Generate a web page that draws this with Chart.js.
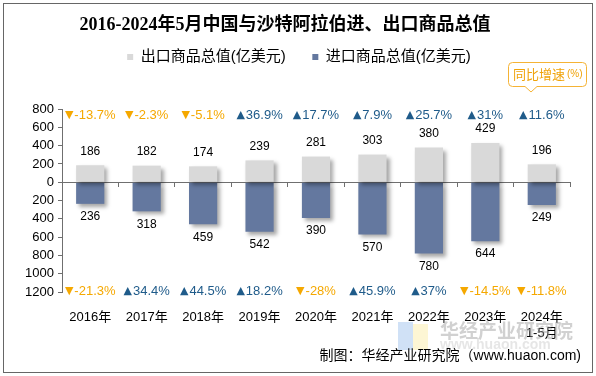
<!DOCTYPE html>
<html><head><meta charset="utf-8">
<script src="https://cdn.jsdelivr.net/npm/chart.js@4/dist/chart.umd.min.js"></script>
<style>html,body{margin:0;padding:0;background:#fff;}canvas{display:block;}</style>
</head><body>
<canvas id="c" width="596" height="376"></canvas>
<script>
const categories = ['2016年','2017年','2018年','2019年','2020年','2021年','2022年','2023年',['2024年','1-5月']];
const exportValues = [186,182,174,239,281,303,380,429,196];
const importValues = [236,318,459,542,390,570,780,644,249];
const exportGrowth = [-13.7,-2.3,-5.1,36.9,17.7,7.9,25.7,31,11.6];
const importGrowth = [-21.3,34.4,44.5,18.2,-28,45.9,37,-14.5,-11.8];
const titleText = '2016-2024年5月中国与沙特阿拉伯进、出口商品总值';
const exportLabel = '出口商品总值(亿美元)';
const importLabel = '进口商品总值(亿美元)';
const sourceText = '制图：华经产业研究院（www.huaon.com)';

const LAT = '"Liberation Sans", "Noto Sans CJK SC", sans-serif';
const UP = '#1f5b8a', DOWN = '#f5a800';

const shadowPlugin = {
  id: 'barShadow',
  beforeDatasetsDraw(chart) {
    const c = chart.ctx; c.save();
    c.shadowColor = 'rgba(0,0,0,0.35)'; c.shadowBlur = 4; c.shadowOffsetX = 3; c.shadowOffsetY = 3;
  },
  afterDatasetsDraw(chart) { chart.ctx.restore(); }
};

const legendShift = { id: 'legendShift', afterLayout(chart) {
  const dx = 14; if (chart.legend) { chart.legend.left += dx; chart.legend.right += dx; }
}};

function growthText(ctx, v, x, y) {
  const arrow = v >= 0 ? '▲' : '▼';
  const txt = v + '%';
  ctx.font = '11px "DejaVu Sans", sans-serif';
  const aw = ctx.measureText(arrow).width;
  ctx.font = '13px ' + LAT;
  const tw = ctx.measureText(txt).width;
  const start = x - (aw + 1 + tw) / 2;
  ctx.fillStyle = v >= 0 ? UP : DOWN;
  ctx.textAlign = 'left'; ctx.textBaseline = 'middle';
  ctx.font = '11px "DejaVu Sans", sans-serif';
  ctx.fillText(arrow, start, y);
  ctx.font = '13px ' + LAT;
  ctx.fillText(txt, start + aw + 1, y);
}

const decor = {
  id: 'decor',
  afterDraw(chart) {
    const ctx = chart.ctx; const ys = chart.scales.y;
    ctx.save();
    // value labels
    ctx.font = '12px ' + LAT; ctx.fillStyle = '#000'; ctx.textAlign = 'center'; ctx.textBaseline = 'middle';
    chart.getDatasetMeta(0).data.forEach((b, i) => ctx.fillText(String(exportValues[i]), b.x, b.y - 14));
    chart.getDatasetMeta(1).data.forEach((b, i) => ctx.fillText(String(importValues[i]), b.x, b.y + 13));
    // growth labels
    const yTop = ys.getPixelForValue(735), yBot = ys.getPixelForValue(-1195);
    chart.getDatasetMeta(0).data.forEach((b, i) => growthText(ctx, exportGrowth[i], b.x, yTop));
    chart.getDatasetMeta(1).data.forEach((b, i) => growthText(ctx, importGrowth[i], b.x, yBot));
    // callout
    ctx.beginPath();
    const x0 = 508.5, y0 = 62.5, x1 = 586.5, y1 = 86.5, r = 4;
    ctx.moveTo(x0 + r, y0); ctx.lineTo(x1 - r, y0); ctx.quadraticCurveTo(x1, y0, x1, y0 + r);
    ctx.lineTo(x1, y1 - r); ctx.quadraticCurveTo(x1, y1, x1 - r, y1);
    ctx.lineTo(537, y1); ctx.lineTo(531, 92); ctx.lineTo(525, y1);
    ctx.lineTo(x0 + r, y1); ctx.quadraticCurveTo(x0, y1, x0, y1 - r);
    ctx.lineTo(x0, y0 + r); ctx.quadraticCurveTo(x0, y0, x0 + r, y0); ctx.closePath();
    ctx.fillStyle = '#fff'; ctx.fill(); ctx.strokeStyle = '#f5b335'; ctx.lineWidth = 1; ctx.stroke();
    ctx.fillStyle = '#f0a30a'; ctx.textAlign = 'left'; ctx.textBaseline = 'middle';
    ctx.font = '13px "Noto Sans CJK SC", sans-serif';
    ctx.fillText('同比增速', 513, 74.5);
    const cw = ctx.measureText('同比增速').width;
    ctx.font = '10px ' + LAT;
    ctx.fillText('(%)', 513 + cw + 2, 74.5);
    // watermark
    ctx.globalAlpha = 0.55;
    ctx.fillStyle = '#a9c8ef'; ctx.fillRect(398, 322, 15, 28);
    ctx.fillStyle = '#fbeeb0'; ctx.fillRect(413, 324, 15, 26);
    ctx.globalAlpha = 0.45;
    ctx.fillStyle = '#9a9a9a'; ctx.font = 'bold 19px "Noto Sans CJK SC", sans-serif';
    ctx.textAlign = 'left'; ctx.fillText('华经产业研究院', 440, 331);
    ctx.globalAlpha = 0.25; ctx.font = 'bold 14px ' + LAT;
    ctx.fillText('www.huaon.com', 440, 345);
    ctx.globalAlpha = 1;
    // source
    ctx.fillStyle = '#000'; ctx.font = '14px ' + LAT; ctx.textAlign = 'right';
    ctx.fillText(sourceText, 581, 356);
    // border
    ctx.strokeStyle = '#666'; ctx.lineWidth = 1; ctx.strokeRect(3.5, 3.5, 589, 369);
    ctx.restore();
  }
};

new Chart(document.getElementById('c'), {
  type: 'bar',
  data: {
    labels: categories,
    datasets: [
      { label: exportLabel, data: exportValues, backgroundColor: '#d9d9d9', stack: 's' },
      { label: importLabel, data: importValues.map(v => -v), backgroundColor: '#64789f', stack: 's' }
    ]
  },
  options: {
    responsive: false, animation: false, devicePixelRatio: 1,
    categoryPercentage: 0.5, barPercentage: 1,
    layout: { padding: { left: 0, right: 26, top: 0, bottom: 34 } },
    scales: {
      x: {
        type: 'category', stacked: true, offset: true,
        grid: { display: false, drawTicks: false }, border: { display: false },
        ticks: { color: '#000', font: { size: 13, family: LAT }, padding: 18, maxRotation: 0, autoSkip: false },
        afterFit: s => { s.height = 50; }
      },
      xz: {
        type: 'category', position: { y: 0 }, offset: true,
        grid: { display: true, drawOnChartArea: false, drawTicks: true, tickLength: 4, color: '#6f6f6f', offset: true },
        border: { display: true, color: '#6f6f6f' },
        ticks: { display: false }
      },
      y: {
        stacked: true, min: -1200, max: 800,
        ticks: { stepSize: 200, autoSkip: false, callback: v => String(Math.abs(v)), color: '#000', font: { size: 13, family: LAT }, padding: 4 },
        grid: { drawOnChartArea: false, drawTicks: true, tickLength: 4, color: '#6f6f6f' },
        border: { color: '#6f6f6f' },
        afterFit: s => { s.width = 62; }
      }
    },
    plugins: {
      title: { display: true, text: titleText, color: '#000',
        font: { size: 18, weight: 'bold', family: '"Liberation Serif", "Noto Sans CJK SC", serif' },
        padding: { top: 15, bottom: 3 } },
      subtitle: { display: true, text: ' ', weight: 500, font: { size: 10 }, padding: { top: 0, bottom: 22.5 } },
      legend: {
        position: 'top',
        labels: {
          boxWidth: 6, boxHeight: 6, padding: 10, color: '#000',
          font: { size: 15, family: LAT },
          generateLabels(chart) {
            const items = Chart.defaults.plugins.legend.labels.generateLabels(chart);
            if (items[0]) items[0].text += '    ';
            return items;
          }
        }
      },
      tooltip: { enabled: false }
    }
  },
  plugins: [shadowPlugin, legendShift, decor]
});
</script>
</body></html>
